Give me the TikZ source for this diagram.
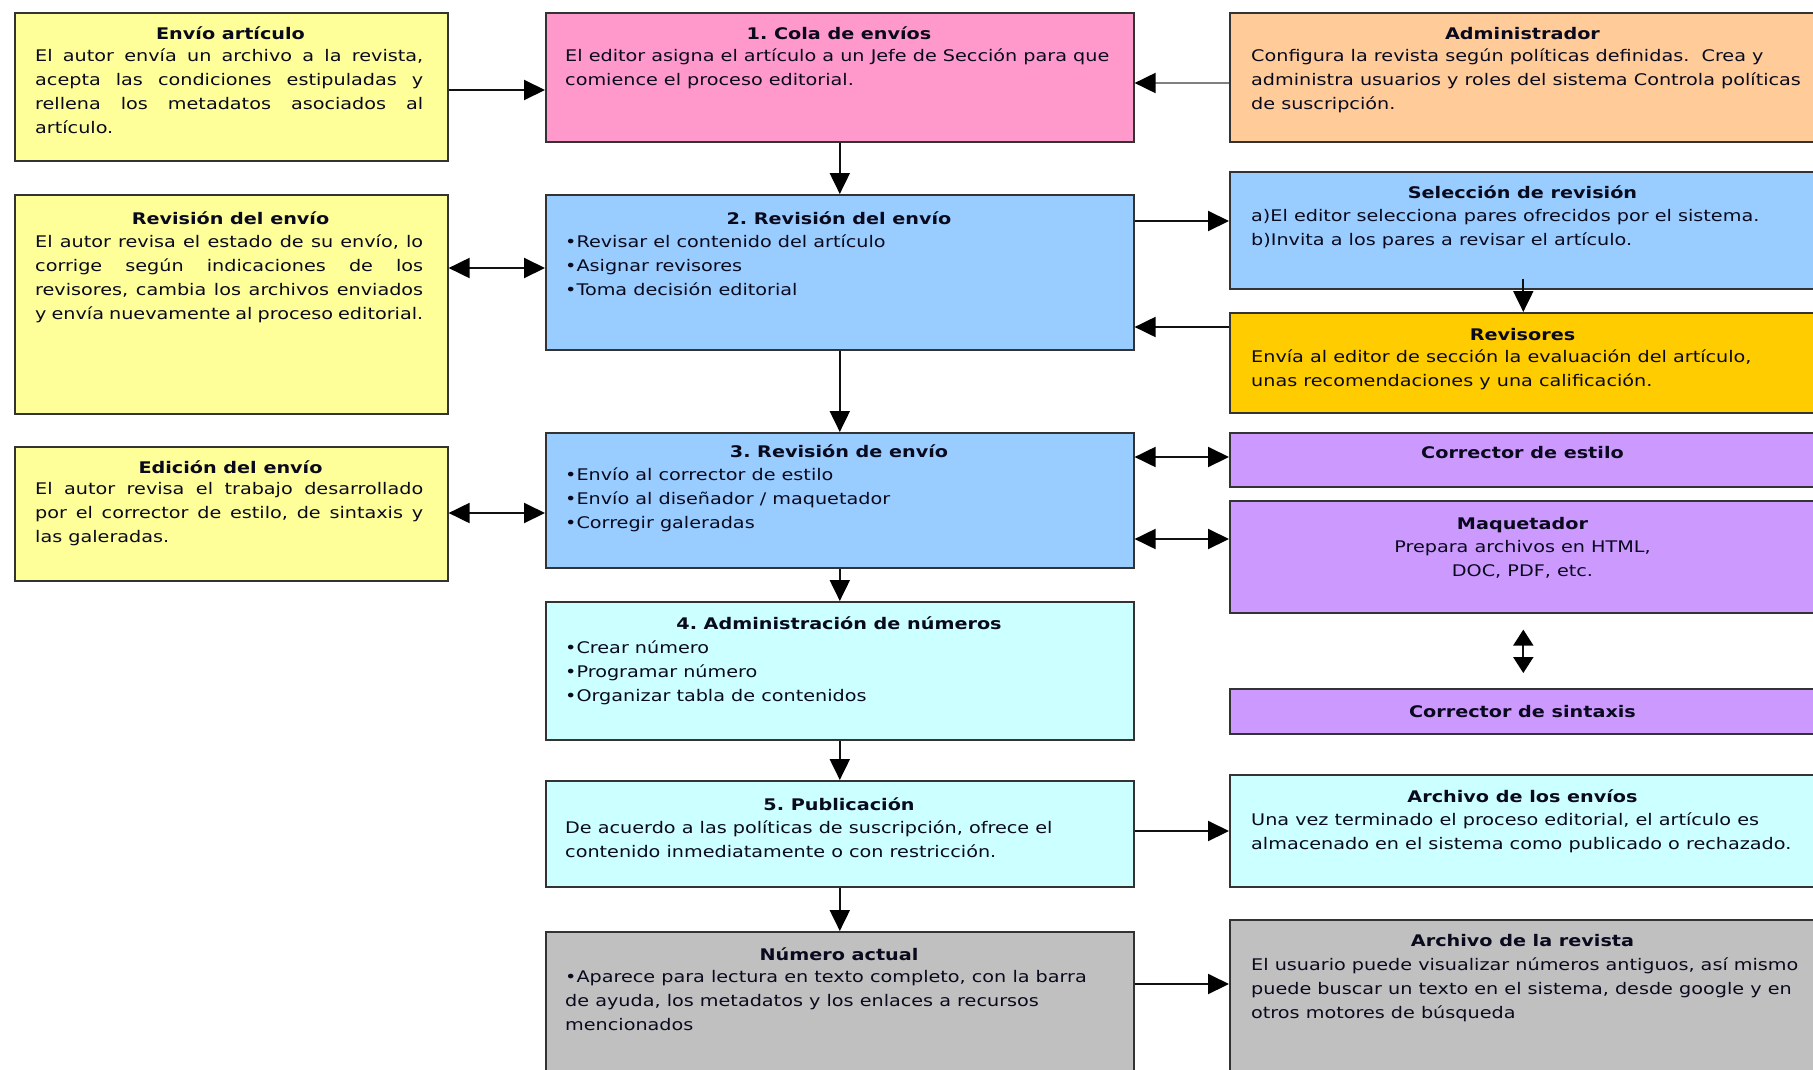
\documentclass[tikz,border=0pt]{standalone}
\usepackage{fontspec}
\setmainfont{DejaVu Sans}[FakeStretch=1.2]
\usetikzlibrary{arrows.meta}
\setlength{\parindent}{0pt}
\frenchspacing
\newcommand{\dgfont}{\fontsize{16}{24}\selectfont\frenchspacing}
\definecolor{cYel}{HTML}{FFFF99}
\definecolor{cPink}{HTML}{FF99CC}
\definecolor{cPeach}{HTML}{FFCC99}
\definecolor{cBlue}{HTML}{99CCFF}
\definecolor{cGold}{HTML}{FFCC00}
\definecolor{cPurp}{HTML}{CC99FF}
\definecolor{cCyan}{HTML}{CCFFFF}
\definecolor{cGray}{HTML}{C0C0C0}
\definecolor{bord}{HTML}{333333}
\definecolor{linec}{HTML}{111111}
\definecolor{txtc}{HTML}{0A0A1E}
\begin{document}
\begin{tikzpicture}[x=1pt,y=-1pt,
  bx/.style={draw=bord, line width=1.6pt, anchor=north west, inner sep=0pt},
  ttl/.style={anchor=base, inner sep=0pt, font=\dgfont\bfseries, text=txtc},
  body/.style={anchor=north west, inner sep=0pt, align=left, font=\dgfont, text=txtc},
  jbody/.style={anchor=north west, inner sep=0pt, align=justify, text width=388pt, font=\dgfont, text=txtc},
  cbody/.style={anchor=north, inner sep=0pt, align=center, font=\dgfont, text=txtc},
  arr/.style={line width=2pt, draw=linec, -{Triangle[length=21pt,width=20pt,color=black]}},
  darr/.style={line width=2pt, draw=linec, {Triangle[length=21pt,width=20pt,color=black]}-{Triangle[length=21pt,width=20pt,color=black]}},
  sdarr/.style={line width=2pt, draw=linec, {Triangle[length=16pt,width=20pt,color=black]}-{Triangle[length=16pt,width=20pt,color=black]}}]
\useasboundingbox (0,0) rectangle (1813,1069);
\fill[white] (0,0) rectangle (1813,1069);

% ---------- left column ----------
\node[bx, fill=cYel, minimum width=433pt, minimum height=148pt] (env) at (14,12) {};
\node[ttl] (envh) at (230.5,39.5) {Envío artículo};
\node[jbody] (envb) at (35,44.7) {\strut El autor envía un archivo a la revista,\linebreak acepta las condiciones estipuladas y\linebreak rellena los metadatos asociados al\linebreak artículo.};

\node[bx, fill=cYel, minimum width=433pt, minimum height=219pt] (rev) at (14,194) {};
\node[ttl] (revh) at (230.5,224.5) {Revisión del envío};
\node[jbody] (revb) at (35,230.7) {\strut El autor revisa el estado de su envío, lo\linebreak corrige según indicaciones de los\linebreak revisores, cambia los archivos enviados\linebreak y envía nuevamente al proceso editorial.};

\node[bx, fill=cYel, minimum width=433pt, minimum height=134pt] (edi) at (14,446) {};
\node[ttl] (edih) at (230.5,473.5) {Edición del envío};
\node[jbody] (edib) at (35,477.7) {\strut El autor revisa el trabajo desarrollado\linebreak por el corrector de estilo, de sintaxis y\linebreak las galeradas.};

% ---------- middle column ----------
\node[bx, fill=cPink, minimum width=588pt, minimum height=129pt] (b1) at (545,12) {};
\node[ttl] (b1h) at (839,39.5) {1. Cola de envíos};
\node[body] (b1b) at (565,44.7) {\strut El editor asigna el artículo a un Jefe de Sección para que\\comience el proceso editorial.};

\node[bx, fill=cBlue, minimum width=588pt, minimum height=155pt] (b2) at (545,194) {};
\node[ttl] (b2h) at (839,224.5) {2. Revisión del envío};
\node[body] (b2b) at (565,230.7) {\strut •Revisar el contenido del artículo\\•Asignar revisores\\•Toma decisión editorial};

\node[bx, fill=cBlue, minimum width=588pt, minimum height=135pt] (b3) at (545,432) {};
\node[ttl] (b3h) at (839,457.5) {3. Revisión de envío};
\node[body] (b3b) at (565,463.7) {\strut •Envío al corrector de estilo\\•Envío al diseñador / maquetador\\•Corregir galeradas};

\node[bx, fill=cCyan, minimum width=588pt, minimum height=138pt] (b4) at (545,601) {};
\node[ttl] (b4h) at (839,629.5) {4. Administración de números};
\node[body] (b4b) at (565,636.7) {\strut •Crear número\\•Programar número\\•Organizar tabla de contenidos};

\node[bx, fill=cCyan, minimum width=588pt, minimum height=106pt] (b5) at (545,780) {};
\node[ttl] (b5h) at (839,810.5) {5. Publicación};
\node[body] (b5b) at (565,816.7) {\strut De acuerdo a las políticas de suscripción, ofrece el\\contenido inmediatamente o con restricción.};

\node[bx, fill=cGray, minimum width=588pt, minimum height=141pt] (na) at (545,931) {};
\node[ttl] (nah) at (839,960.5) {Número actual};
\node[body] (nab) at (565,965.7) {\strut •Aparece para lectura en texto completo, con la barra\\de ayuda, los metadatos y los enlaces a recursos\\mencionados};

% ---------- right column ----------
\node[bx, fill=cPeach, minimum width=587pt, minimum height=129pt] (adm) at (1229,12) {};
\node[ttl] (admh) at (1522.5,39.5) {Administrador};
\node[body] (admb) at (1251,44.7) {\strut Configura la revista según políticas definidas.~ Crea y\\administra usuarios y roles del sistema Controla políticas\\de suscripción.};

\node[bx, fill=cBlue, minimum width=587pt, minimum height=117pt] (sel) at (1229,171) {};
\node[ttl] (selh) at (1522.5,198.5) {Selección de revisión};
\node[body] (selb) at (1251,204.7) {\strut a)El editor selecciona pares ofrecidos por el sistema.\\b)Invita a los pares a revisar el artículo.};

\node[bx, fill=cGold, minimum width=587pt, minimum height=100pt] (revs) at (1229,312) {};
\node[ttl] (revsh) at (1522.5,340.5) {Revisores};
\node[body] (revsb) at (1251,345.7) {\strut Envía al editor de sección la evaluación del artículo,\\unas recomendaciones y una calificación.};

\node[bx, fill=cPurp, minimum width=587pt, minimum height=54pt] (ce) at (1229,432) {};
\node[ttl] (ceh) at (1522.5,458.5) {Corrector de estilo};

\node[bx, fill=cPurp, minimum width=587pt, minimum height=112pt] (maq) at (1229,500) {};
\node[ttl] (maqh) at (1522.5,529.5) {Maquetador};
\node[cbody] (maqb) at (1522.5,535.7) {\strut Prepara archivos en HTML,\\DOC, PDF, etc.};

\node[bx, fill=cPurp, minimum width=587pt, minimum height=45pt] (cs) at (1229,688) {};
\node[ttl] (csh) at (1522.5,717.5) {Corrector de sintaxis};

\node[bx, fill=cCyan, minimum width=587pt, minimum height=112pt] (ae) at (1229,774) {};
\node[ttl] (aeh) at (1522.5,802.5) {Archivo de los envíos};
\node[body] (aeb) at (1251,808.7) {\strut Una vez terminado el proceso editorial, el artículo es\\almacenado en el sistema como publicado o rechazado.};

\node[bx, fill=cGray, minimum width=587pt, minimum height=153pt] (ar) at (1229,919) {};
\node[ttl] (arh) at (1522.5,946.5) {Archivo de la revista};
\node[body] (arb) at (1251,953.7) {\strut El usuario puede visualizar números antiguos, así mismo\\puede buscar un texto en el sistema, desde google y en\\otros motores de búsqueda};

% ---------- connector levels ----------
\coordinate (h1) at (0,90);
\coordinate (h2) at (0,83);
\coordinate (h3) at (0,268);
\coordinate (h4) at (0,221);
\coordinate (h5) at (0,327);
\coordinate (h6) at (0,513);
\coordinate (h7) at (0,457);
\coordinate (h8) at (0,539);
\coordinate (h9) at (0,831);
\coordinate (h10) at (0,984);

% ---------- connectors ----------
\draw[arr] (env.east |- h1) -- (b1.west |- h1);
\draw[arr, draw=gray] (adm.west |- h2) -- (b1.east |- h2);
\draw[arr] (b1.south) -- (b2.north);
\draw[darr] (rev.east |- h3) -- (b2.west |- h3);
\draw[arr] (b2.east |- h4) -- (sel.west |- h4);
\draw[arr] (revs.west |- h5) -- (b2.east |- h5);
\draw[arr] ([yshift=11pt]sel.south) -- (revs.north);
\draw[arr] (b2.south) -- (b3.north);
\draw[darr] (edi.east |- h6) -- (b3.west |- h6);
\draw[darr] (b3.east |- h7) -- (ce.west |- h7);
\draw[darr] (b3.east |- h8) -- (maq.west |- h8);
\draw[arr] (b3.south) -- (b4.north);
\draw[sdarr] ([yshift=-16pt]maq.south) -- ([yshift=15pt]cs.north);
\draw[arr] (b4.south) -- (b5.north);
\draw[arr] (b5.east |- h9) -- (ae.west |- h9);
\draw[arr] (b5.south) -- (na.north);
\draw[arr] (na.east |- h10) -- (ar.west |- h10);
\end{tikzpicture}
\end{document}
